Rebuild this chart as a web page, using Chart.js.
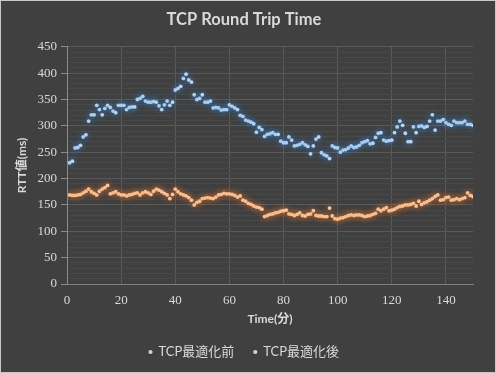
<!DOCTYPE html>
<html lang="ja">
<head>
    <meta charset="UTF-8">
    <title>TCP Round Trip Time</title>
    <style>
        body {
            margin: 0;
            padding: 0;
            background-color: #404040;
        }

        .chart-box {
            width: 496px;
            height: 373px;
        }
    </style>
</head>
<body>
    <div class="chart-box">
        <canvas id="rttChart" width="496" height="373"></canvas>
    </div>

    <script src="https://cdn.jsdelivr.net/npm/chart.js"></script>
    <script>
        // RTT (ms) per minute (minute 1..150)
        const rttBefore = [
            230, 233, 258, 259, 263, 279, 283, 309, 321, 321,
            339, 331, 321, 333, 339, 335, 328, 325, 339, 339,
            339, 331, 335, 336, 336, 350, 352, 356, 347, 345,
            345, 346, 345, 338, 331, 340, 347, 339, 345, 368,
            371, 375, 390, 398, 387, 383, 359, 350, 352, 359,
            345, 345, 347, 334, 335, 334, 330, 331, 331, 340,
            337, 334, 331, 320, 318, 311, 309, 307, 304, 288,
            297, 293, 280, 284, 285, 287, 284, 284, 271, 268,
            268, 279, 273, 262, 263, 265, 268, 264, 261, 247,
            262, 275, 279, 249, 245, 243, 238, 262, 259, 258,
            250, 254, 255, 258, 262, 259, 260, 263, 268, 270,
            272, 266, 267, 278, 286, 287, 273, 271, 272, 273,
            287, 298, 309, 301, 286, 270, 270, 298, 287, 299,
            300, 297, 299, 309, 321, 292, 309, 309, 312, 306,
            303, 301, 309, 306, 306, 306, 309, 303, 303, 301
        ];

        const rttAfter = [
            169, 168, 168, 169, 170, 173, 176, 180, 175, 172,
            169, 176, 180, 183, 187, 171, 173, 175, 171, 169,
            169, 167, 169, 170, 172, 173, 169, 173, 175, 173,
            170, 176, 180, 178, 175, 172, 169, 162, 170, 180,
            175, 171, 169, 167, 164, 159, 150, 155, 157, 162,
            163, 164, 163, 162, 165, 169, 170, 172, 171, 171,
            170, 168, 165, 167, 159, 157, 153, 151, 148, 146,
            145, 142, 128, 130, 132, 133, 135, 136, 138, 139,
            140, 133, 132, 130, 132, 135, 130, 129, 132, 133,
            139, 130, 129, 129, 128, 128, 144, 129, 124, 123,
            125, 126, 128, 130, 131, 130, 131, 131, 130, 128,
            129, 130, 132, 134, 142, 139, 142, 145, 139, 140,
            142, 145, 147, 148, 150, 150, 151, 153, 148, 157,
            151, 154, 156, 159, 162, 166, 169, 159, 160, 164,
            165, 159, 160, 162, 160, 162, 164, 173, 168, 166
        ];

        const seriesNames = ['TCP最適化前', 'TCP最適化後'];
        const xTicks = [0, 20, 40, 60, 80, 100, 120, 140];
        const yMajorStep = 50;

        const textColor = '#d9d9d9';
        const sansFont = 'Lato, "Noto Sans CJK JP", sans-serif';
        const tickFont = { family: '"Liberation Serif", serif', size: 13 };

        const toPoints = values => values.map((v, i) => ({ x: i + 1, y: v }));

        // background, frame and a soft glow round the markers
        const sheetPlugin = {
            id: 'sheet',
            beforeDraw(chart) {
                const ctx = chart.ctx;
                ctx.save();
                ctx.fillStyle = '#404040';
                ctx.fillRect(0, 0, chart.width, chart.height);
                ctx.strokeStyle = '#c8c8c8';
                ctx.lineWidth = 1;
                ctx.strokeRect(0.5, 0.5, chart.width - 1, chart.height - 1);
                ctx.restore();
            },
            beforeDatasetDraw(chart, args) {
                const ds = chart.data.datasets[args.index];
                chart.ctx.save();
                chart.ctx.shadowColor = ds.glowColor;
                chart.ctx.shadowBlur = 6;
            },
            afterDatasetDraw(chart) {
                chart.ctx.restore();
            }
        };

        const ctx = document.getElementById('rttChart').getContext('2d');
        new Chart(ctx, {
            type: 'scatter',
            data: {
                datasets: [{
                    label: seriesNames[0],
                    data: toPoints(rttBefore),
                    pointRadius: 1.9,
                    pointBorderWidth: 0,
                    pointBackgroundColor: '#b8d6f2',
                    backgroundColor: '#b8d6f2',
                    glowColor: '#3f8ae0'
                }, {
                    label: seriesNames[1],
                    data: toPoints(rttAfter),
                    pointRadius: 1.9,
                    pointBorderWidth: 0,
                    pointBackgroundColor: '#f9c9a0',
                    backgroundColor: '#f9c9a0',
                    glowColor: '#ed7d31'
                }]
            },
            plugins: [sheetPlugin],
            options: {
                responsive: false,
                animation: false,
                layout: {
                    padding: { top: 0, left: 15, right: 23, bottom: 4.5 }
                },
                plugins: {
                    title: {
                        display: true,
                        text: 'TCP Round Trip Time',
                        color: textColor,
                        font: { family: sansFont, size: 16.5, weight: 'bold' },
                        padding: { top: 10, bottom: 17 }
                    },
                    legend: {
                        position: 'bottom',
                        labels: {
                            color: textColor,
                            font: { family: sansFont, size: 13 },
                            usePointStyle: true,
                            pointStyle: 'circle',
                            boxWidth: 3,
                            boxHeight: 3,
                            padding: 19.5
                        }
                    },
                    tooltip: { enabled: false }
                },
                scales: {
                    x: {
                        type: 'linear',
                        min: 0,
                        max: 150,
                        afterBuildTicks: scale => {
                            scale.ticks = xTicks.map(v => ({ value: v }));
                        },
                        afterFit: scale => { scale.height = 42; },
                        ticks: {
                            color: textColor,
                            font: tickFont,
                            padding: 9,
                            maxRotation: 0
                        },
                        grid: {
                            color: '#5a5a5a',
                            drawTicks: false
                        },
                        border: { color: '#7f7f7f' },
                        title: {
                            display: true,
                            text: 'Time(分)',
                            color: textColor,
                            font: { family: sansFont, size: 12, weight: 'bold' },
                            padding: 0
                        }
                    },
                    y: {
                        min: 0,
                        max: 450,
                        afterFit: scale => { scale.width = 52; },
                        ticks: {
                            stepSize: 10,
                            autoSkip: false,
                            color: textColor,
                            font: tickFont,
                            padding: 4,
                            callback: v => (v % yMajorStep === 0 ? v : '')
                        },
                        grid: {
                            color: c => (c.tick && c.tick.value % yMajorStep === 0 ? '#5a5a5a' : '#484848'),
                            tickColor: c => (c.tick && c.tick.value % yMajorStep === 0 ? '#8c8c8c' : 'rgba(0,0,0,0)'),
                            tickLength: 6
                        },
                        border: { color: '#8c8c8c' },
                        title: {
                            display: true,
                            text: 'RTT値(ms)',
                            color: textColor,
                            font: { family: sansFont, size: 12, weight: 'bold' },
                            padding: 0
                        }
                    }
                }
            }
        });
    </script>
</body>
</html>
